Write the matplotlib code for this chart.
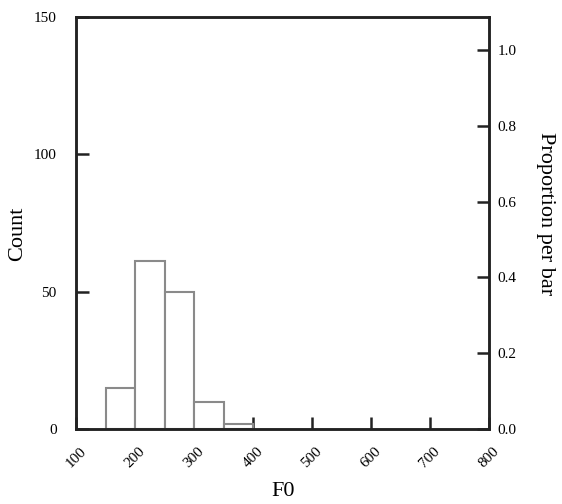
import matplotlib
matplotlib.use("Agg")
import matplotlib.pyplot as plt
import numpy as np

bin_edges = [150, 200, 250, 300, 350, 400]
counts = [15, 61, 50, 10, 2]
x_ticks = [100, 200, 300, 400, 500, 600, 700, 800]
y_ticks = [0, 50, 100, 150]
prop_ticks = [0.0, 0.2, 0.4, 0.6, 0.8, 1.0]

plt.rcParams['font.family'] = ['Liberation Serif', 'DejaVu Serif']

W, H = 562, 504
fig = plt.figure(figsize=(W / 100, H / 100), dpi=100)
ax = fig.add_axes([76 / W, 1 - 429 / H, 413 / W, 412 / H])

lefts = bin_edges[:-1]
widths = np.diff(bin_edges)
ax.bar(lefts, counts, width=widths, align='edge', facecolor='white',
       edgecolor='#8a8a8a', linewidth=1.5, zorder=2)

ax.set_xlim(100, 800)
ax.set_ylim(0, 150)
ax.set_xticks(x_ticks)
ax.set_xticklabels([str(t) for t in x_ticks], rotation=45, ha='center',
                   fontsize=11)
ax.set_yticks(y_ticks)
ax.set_yticklabels([str(t) for t in y_ticks], fontsize=11)
ax.tick_params(axis='both', direction='in', length=9, width=1.8, color='#222222')
ax.tick_params(axis='y', pad=14)
ax.tick_params(axis='x', pad=11)
for s in ax.spines.values():
    s.set_linewidth(1.8)
    s.set_color('#222222')

N = sum(counts)
ax2 = ax.twinx()
ax2.set_ylim(0, 150 / N)
ax2.set_yticks(prop_ticks)
ax2.set_yticklabels([f'{t:.1f}' for t in prop_ticks], fontsize=11)
ax2.tick_params(axis='y', direction='in', length=9, width=1.8, color='#222222', pad=6)
for s in ax2.spines.values():
    s.set_linewidth(1.8)
    s.set_color('#222222')

fig.text(283 / W, 1 - 491 / H, 'F0', fontsize=16, ha='center', va='center')
fig.text(18 / W, 1 - 234 / H, 'Count', fontsize=16, ha='center', va='center',
         rotation=90)
fig.text(546 / W, 1 - 214 / H, 'Proportion per bar', fontsize=16, ha='center',
         va='center', rotation=-90)

fig.savefig('out.png', dpi=100)
